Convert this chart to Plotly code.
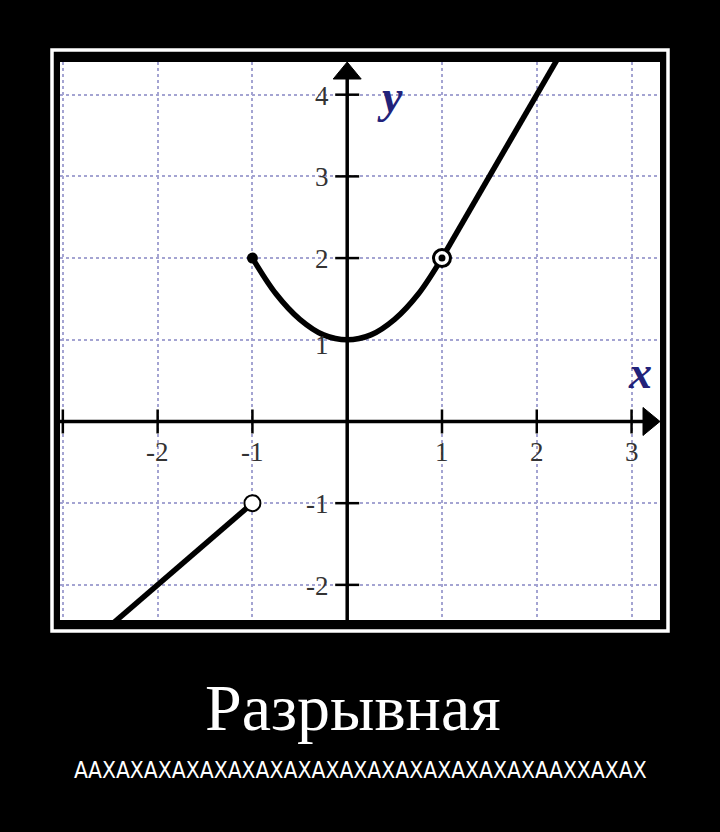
import plotly.graph_objects as go

# ---------------- data ----------------
left_x = [-2.5, -2, -1]
left_y = [-2.5, -2, -1]
parab_x = [-1, -0.75, -0.5, -0.25, 0, 0.25, 0.5, 0.75, 1]
parab_y = [2, 1.56, 1.25, 1.06, 1, 1.06, 1.25, 1.56, 2]
right_x = [1, 2, 2.25]
right_y = [2, 4, 4.5]
open_x, open_y = [-1], [-1]
closed_x, closed_y = [-1], [2]
ring_x, ring_y = [1], [2]

x_ticks = [-3, -2, -1, 1, 2, 3]
x_tick_labels = ["", "-2", "-1", "1", "2", "3"]
y_ticks = [-2, -1, 1, 2, 3, 4]
y_tick_labels = ["-2", "-1", "1", "2", "3", "4"]
grid_x = [-3, -2, -1, 1, 2, 3]
grid_y = [-2, -1, 1, 2, 3, 4]

title_text = "Разрывная"
subtitle_text = "АА" + "ХА" * 16 + "АХХАХАХ"

# ---------------- layout geometry ----------------
W, H = 720, 832
PL, PR, PT, PB = 60, 660, 62, 620
x_range = [-3.03, 3.30]
y_range = [-2.43, 4.40]


def pxx(px):
    return (px - PL) / (PR - PL)


def pxy(py):
    return (PB - py) / (PB - PT)


fig = go.Figure()

# curves
for xs, ys, shp in [(left_x, left_y, "linear"), (parab_x, parab_y, "spline"), (right_x, right_y, "linear")]:
    fig.add_trace(go.Scatter(x=xs, y=ys, mode="lines", line=dict(color="black", width=5.5, shape=shp),
                             hoverinfo="skip", showlegend=False))

fig.add_trace(go.Scatter(x=open_x, y=open_y, mode="markers",
                         marker=dict(size=16, color="white", line=dict(color="black", width=2)),
                         showlegend=False, hoverinfo="skip"))
fig.add_trace(go.Scatter(x=closed_x, y=closed_y, mode="markers",
                         marker=dict(size=11, color="black"), showlegend=False, hoverinfo="skip"))
fig.add_trace(go.Scatter(x=ring_x, y=ring_y, mode="markers",
                         marker=dict(size=17, color="white", line=dict(color="black", width=3)),
                         showlegend=False, hoverinfo="skip"))
fig.add_trace(go.Scatter(x=ring_x, y=ring_y, mode="markers",
                         marker=dict(size=7, color="black"), showlegend=False, hoverinfo="skip"))

shapes = []
# axes lines
shapes.append(dict(type="line", xref="x", yref="y", x0=x_range[0], x1=x_range[1] - 0.1, y0=0, y1=0,
                   line=dict(color="black", width=3.5), layer="above"))
shapes.append(dict(type="line", xref="x", yref="y", x0=0, x1=0, y0=y_range[0], y1=y_range[1] - 0.1,
                   line=dict(color="black", width=3.5), layer="above"))
# arrowheads
shapes.append(dict(type="path", xref="x", yref="y", xsizemode="pixel", ysizemode="pixel",
                   xanchor=x_range[1], yanchor=0, path="M 0,0 L -17,14 L -17,-14 Z",
                   fillcolor="black", line=dict(color="black", width=1)))
shapes.append(dict(type="path", xref="x", yref="y", xsizemode="pixel", ysizemode="pixel",
                   xanchor=0, yanchor=y_range[1], path="M 0,0 L -14,-17 L 14,-17 Z",
                   fillcolor="black", line=dict(color="black", width=1)))
# tick marks crossing the axes
for t in x_ticks:
    shapes.append(dict(type="line", xref="x", yref="y", ysizemode="pixel", yanchor=0,
                       x0=t, x1=t, y0=-12, y1=12, line=dict(color="black", width=2.5)))
for t in y_ticks:
    shapes.append(dict(type="line", xref="x", yref="y", xsizemode="pixel", xanchor=0,
                       y0=t, y1=t, x0=-12, x1=12, line=dict(color="black", width=2.5)))
# white poster frame
shapes.append(dict(type="rect", xref="paper", yref="paper", x0=pxx(52), x1=pxx(668),
                   y0=pxy(631), y1=pxy(50), line=dict(color="white", width=3.5)))

annotations = []
tick_font = dict(family="Liberation Serif, Times New Roman, serif", size=27, color="#333333")
for t, lab in zip(x_ticks, x_tick_labels):
    if lab:
        annotations.append(dict(x=t, xref="x", y=pxy(452), yref="paper", text=lab, showarrow=False,
                                xanchor="center", yanchor="middle", font=tick_font))
for t, lab in zip(y_ticks, y_tick_labels):
    shift = -5 if t == 1 else -1
    annotations.append(dict(x=pxx(331), xref="paper", y=t, yref="y", yshift=shift, text=lab,
                            showarrow=False, xanchor="right", yanchor="middle", font=tick_font))
# axis names
axis_font = dict(family="Liberation Serif, Times New Roman, serif", size=46, color="#22227a",
                 style="italic", weight="bold")
annotations.append(dict(x=pxx(390), xref="paper", y=pxy(96), yref="paper", text="y", showarrow=False,
                        xanchor="center", yanchor="middle", font=axis_font))
annotations.append(dict(x=pxx(640), xref="paper", y=pxy(372), yref="paper", text="x", showarrow=False,
                        xanchor="center", yanchor="middle", font=axis_font))
# captions
annotations.append(dict(x=pxx(353), xref="paper", y=pxy(707), yref="paper", text=title_text,
                        showarrow=False, xanchor="center", yanchor="middle",
                        font=dict(family="Liberation Serif, Times New Roman, serif", size=66, color="white")))
annotations.append(dict(x=pxx(360), xref="paper", y=pxy(770), yref="paper", text=subtitle_text,
                        showarrow=False, xanchor="center", yanchor="middle",
                        font=dict(family="DejaVu Sans Condensed, Liberation Sans Narrow, sans-serif",
                                  size=22.7, color="white")))

fig.update_layout(
    width=W, height=H,
    margin=dict(l=PL, r=W - PR, t=PT, b=H - PB, pad=0),
    paper_bgcolor="black", plot_bgcolor="white",
    showlegend=False,
    shapes=shapes, annotations=annotations,
    xaxis=dict(range=x_range, tickvals=grid_x, showticklabels=False, ticks="", zeroline=False,
               showline=False, showgrid=True, gridcolor="#a4a4d2", gridwidth=1.6, griddash="dot",
               fixedrange=True),
    yaxis=dict(range=y_range, tickvals=grid_y, showticklabels=False, ticks="", zeroline=False,
               showline=False, showgrid=True, gridcolor="#a4a4d2", gridwidth=1.6, griddash="dot",
               fixedrange=True),
)

fig.write_html("out.html", config={"displayModeBar": False},
               post_script="document.body.style.margin='0';document.body.style.background='black';")
